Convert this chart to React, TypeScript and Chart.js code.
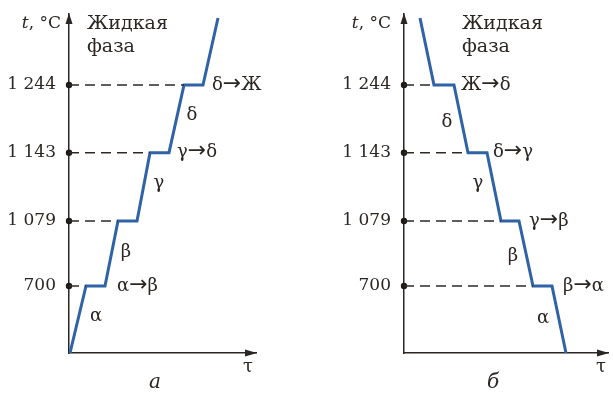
import React, { useEffect, useRef } from "react";
import { Chart, registerables } from "chart.js";

Chart.register(...registerables);

// ---- data ----
// schematic temperature levels (not to scale) and their labels
const tempLevels = [1, 1.97, 2.99, 4];
const tempLabels = ["700", "1 079", "1 143", "1 244"];

// heating curve (a): time units vs. temperature level
const heatTime = [1, 17, 36, 49, 68, 81, 100, 115, 134, 149];
const heatLevel = [0, 1, 1, 1.97, 1.97, 2.99, 2.99, 4, 4, 5];

// cooling curve (б)
const coolTime = [16, 30, 50, 64, 83, 97, 115, 129, 148, 162];
const coolLevel = [5, 4, 4, 2.99, 2.99, 1.97, 1.97, 1, 1, 0];

const heatNotes = ["δ→Ж", "δ", "γ→δ", "γ", "α→β", "β", "α"];
const coolNotes = ["Ж→δ", "δ", "δ→γ", "γ", "γ→β", "β", "β→α", "α"];

// annotation layout (x in time units, y in levels), with alignment
const heatNotePos = [
  [143, 4, "left"], [123, 3.55, "center"], [108, 2.99, "left"], [90, 2.54, "center"],
  [48, 1, "left"], [57, 1.51, "center"], [27, 0.55, "center"],
];
const coolNotePos = [
  [57, 4, "left"], [43, 3.45, "center"], [89, 2.99, "left"], [74, 2.54, "center"],
  [125, 1.97, "left"], [109, 1.45, "center"], [159, 1, "left"], [139, 0.52, "center"],
];

const BLUE = "#2f62a6";
const INK = "#2b2622";
const FONT = "'DejaVu Serif', serif";

type PanelCfg = {
  left: number;
  width: number;
  axisW: number;
  padRight: number;
  xMax: number;
  time: number[];
  level: number[];
  notes: string[];
  notePos: any[];
  unitX: number;
  phaseX: number;
  tauX: number;
  letter: string;
  letterX: number;
};

function drawNote(ctx: any, text: string, x: number, y: number, align: string) {
  const parts = text.split("→");
  const letterFont = `18px ${FONT}`;
  const arrowFont = `22px 'DejaVu Sans', sans-serif`;
  if (parts.length === 1) {
    ctx.font = letterFont;
    ctx.textAlign = align;
    ctx.fillText(text, x, y);
    return;
  }
  ctx.textAlign = "left";
  ctx.font = letterFont;
  const w1 = ctx.measureText(parts[0]).width;
  ctx.font = arrowFont;
  const wa = ctx.measureText("→").width;
  ctx.font = letterFont;
  const w2 = ctx.measureText(parts[1]).width;
  let cx = align === "center" ? x - (w1 + wa + w2) / 2 : x;
  ctx.fillText(parts[0], cx, y);
  cx += w1;
  ctx.font = arrowFont;
  ctx.fillText("→", cx, y - 1);
  cx += wa;
  ctx.font = letterFont;
  ctx.fillText(parts[1], cx, y);
}

function makeChart(canvas: HTMLCanvasElement, p: PanelCfg) {
  const dashed = tempLevels.map((lv) => {
    let xs = p.time.filter((_, i) => p.level[i] === lv);
    return {
      type: "line" as const,
      data: [
        { x: 0, y: lv },
        { x: Math.min(...xs), y: lv },
      ],
      borderColor: "#2e2925",
      borderWidth: 1.5,
      borderDash: [10, 6],
      pointRadius: 0,
      clip: false as any,
    };
  });

  const textPlugin = {
    id: "texts",
    afterDraw(chart: any) {
      const ctx = chart.ctx;
      const xs = chart.scales.x;
      const ys = chart.scales.y;
      const ca = chart.chartArea;
      ctx.save();
      // axis arrows
      ctx.fillStyle = INK;
      ctx.beginPath();
      ctx.moveTo(ca.left, ca.top - 1);
      ctx.lineTo(ca.left - 3.5, ca.top + 10);
      ctx.lineTo(ca.left + 3.5, ca.top + 10);
      ctx.closePath();
      ctx.fill();
      ctx.beginPath();
      ctx.moveTo(ca.right + 1, ca.bottom);
      ctx.lineTo(ca.right - 11, ca.bottom - 3.5);
      ctx.lineTo(ca.right - 11, ca.bottom + 3.5);
      ctx.closePath();
      ctx.fill();

      ctx.fillStyle = INK;
      ctx.textBaseline = "middle";
      p.notes.forEach((t, i) => {
        const [x, y, al] = p.notePos[i];
        drawNote(ctx, t, xs.getPixelForValue(x), ys.getPixelForValue(y), al);
      });
      // unit label
      const uy = ys.getPixelForValue(4.91);
      ctx.textAlign = "right";
      ctx.font = `17px ${FONT}`;
      const unitRest = ", °C";
      const ux = xs.getPixelForValue(p.unitX);
      const wRest = ctx.measureText(unitRest).width;
      ctx.fillText(unitRest, ux, uy);
      ctx.font = `italic 17px ${FONT}`;
      ctx.fillText("t", ux - wRest, uy);
      // phase text
      ctx.font = `19px ${FONT}`;
      ctx.textAlign = "left";
      ctx.fillText("Жидкая", xs.getPixelForValue(p.phaseX), ys.getPixelForValue(4.91));
      ctx.fillText("фаза", xs.getPixelForValue(p.phaseX), ys.getPixelForValue(4.57));
      // tau
      ctx.font = `18px ${FONT}`;
      ctx.textAlign = "center";
      ctx.fillText("τ", xs.getPixelForValue(p.tauX), ys.getPixelForValue(-0.22));
      ctx.font = `italic 20px ${FONT}`;
      ctx.fillText(p.letter, xs.getPixelForValue(p.letterX), ys.getPixelForValue(-0.45));
      ctx.restore();
    },
  };

  return new Chart(canvas, {
    type: "line",
    data: {
      datasets: [
        ...dashed,
        {
          type: "line",
          data: p.time.map((t, i) => ({ x: t, y: p.level[i] })),
          borderColor: BLUE,
          borderWidth: 3,
          borderJoinStyle: "miter",
          pointRadius: 0,
          tension: 0,
          clip: false as any,
        },
        {
          type: "scatter",
          data: tempLevels.map((lv) => ({ x: 0, y: lv })),
          pointRadius: 3.2,
          pointBackgroundColor: "#1e1a17",
          pointBorderWidth: 0,
          showLine: false,
          clip: false as any,
        },
      ] as any,
    },
    options: {
      responsive: false,
      animation: false,
      events: [],
      layout: { padding: { left: 0, right: p.padRight, top: 14, bottom: 41 } },
      plugins: { legend: { display: false }, tooltip: { enabled: false } },
      scales: {
        x: {
          type: "linear",
          min: 0,
          max: p.xMax,
          grid: { display: false },
          ticks: { display: false },
          border: { display: true, color: INK, width: 1.5 },
          afterFit: (s: any) => {
            s.height = 0;
            s.paddingLeft = 0;
            s.paddingRight = 0;
          },
        },
        y: {
          type: "linear",
          min: 0,
          max: 5.06,
          grid: { display: false, drawTicks: false },
          border: { display: true, color: INK, width: 1.5 },
          afterBuildTicks: (s: any) => {
            s.ticks = tempLevels.map((v) => ({ value: v }));
          },
          ticks: {
            padding: 13,
            color: INK,
            font: { family: FONT, size: 17 },
            callback: (v: any) => {
              const i = tempLevels.indexOf(Number(v));
              return i >= 0 ? tempLabels[i] : "";
            },
          },
          afterFit: (s: any) => {
            s.width = p.axisW;
            s.paddingTop = 0;
            s.paddingBottom = 0;
          },
        },
      },
    } as any,
    plugins: [textPlugin],
  });
}

const panels: PanelCfg[] = [
  {
    left: 0, width: 306, axisW: 69, padRight: 50, xMax: 187,
    time: heatTime, level: heatLevel, notes: heatNotes, notePos: heatNotePos,
    unitX: -8, phaseX: 18, tauX: 179, letter: "а", letterX: 86,
  },
  {
    left: 306, width: 307, axisW: 98, padRight: 5, xMax: 204,
    time: coolTime, level: coolLevel, notes: coolNotes, notePos: coolNotePos,
    unitX: -13, phaseX: 58, tauX: 197, letter: "б", letterX: 89,
  },
];

function Panel({ cfg }: { cfg: PanelCfg }) {
  const ref = useRef<HTMLCanvasElement>(null);
  useEffect(() => {
    const c = makeChart(ref.current!, cfg);
    return () => c.destroy();
  }, []);
  return (
    <canvas
      ref={ref}
      width={cfg.width}
      height={394}
      style={{ position: "absolute", left: cfg.left, top: 0, width: cfg.width, height: 394 }}
    />
  );
}

export default function App() {
  return (
    <div style={{ position: "fixed", left: 0, top: 0, width: 613, height: 394, background: "#fff" }}>
      {panels.map((p, i) => (
        <Panel key={i} cfg={p} />
      ))}
    </div>
  );
}
